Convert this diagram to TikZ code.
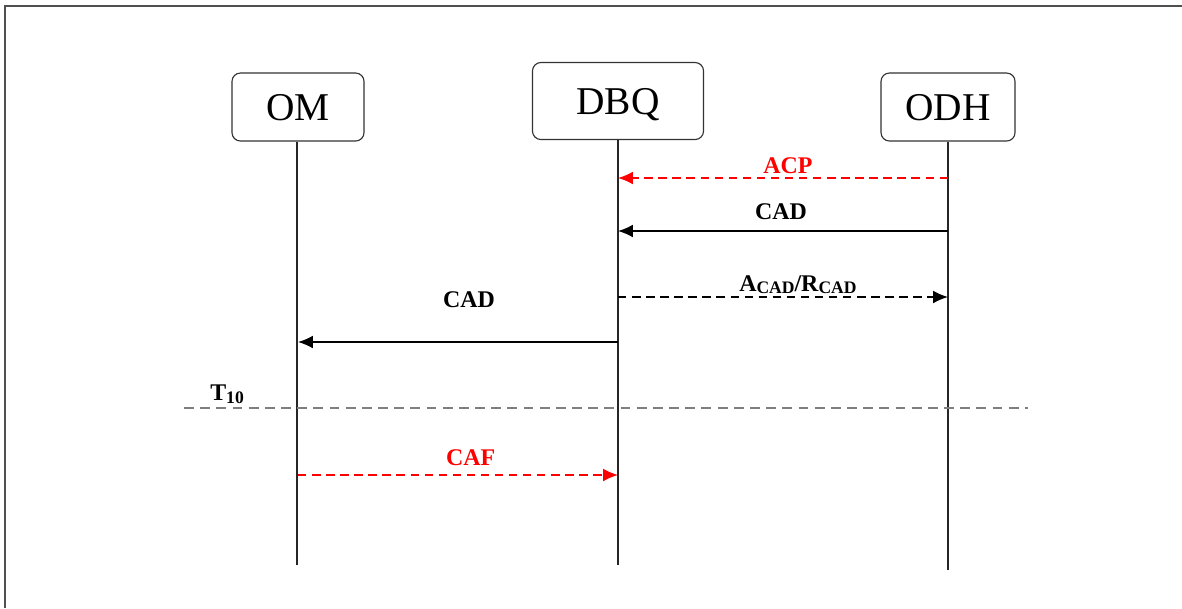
\documentclass[tikz,border=0pt]{standalone}
\usepackage{fontspec}
\setmainfont{Liberation Serif}
\usepackage{tikz}
\usepackage{xcolor}
\usetikzlibrary{arrows.meta, positioning, calc}
\definecolor{frameGray}{HTML}{505050}
\definecolor{timerGray}{HTML}{7F7F7F}
\tikzstyle{actor} = [rectangle, rounded corners=6pt, minimum width=3.3cm, minimum height=1.7cm, text centered, text depth=0pt, draw=black!80, line width=0.8pt, fill=white, font=\fontsize{28}{32}\selectfont]
\tikzstyle{lifeline} = [line width=0.8pt, draw=black!85]
\tikzstyle{arrow} = [line width=1.1pt,-{Latex[length=10.5pt,width=9pt]}]
\tikzstyle{dashedarrow} = [arrow, dash pattern=on 6pt off 4pt]
\tikzstyle{msg} = [font=\fontsize{17}{20}\selectfont\bfseries, inner sep=0pt, anchor=base]
\newcommand{\lowsub}[1]{\raisebox{-2pt}{\fontsize{12.5}{14}\selectfont #1}}

\begin{document}
\begin{tikzpicture}[x=0.025cm, y=-0.025cm]
\useasboundingbox (0,0) rectangle (1182,608);

% Frame
\draw [frameGray, line width=1.3pt] (5,608) -- (5,6) -- (1182,6);

% Nodes
\node (OM) [actor] at (298,107) {OM};
\node (DBQ) [actor, minimum width=4.275cm, minimum height=1.925cm] at (618,101) {DBQ};
\node (ODH) [actor, minimum width=3.35cm] at (948,107) {ODH};

% Rows
\coordinate (bottom) at (0,565);
\coordinate (rowACP) at (0,178);
\coordinate (rowCAD) at (0,231);
\coordinate (rowAR) at (0,297);
\coordinate (rowCADom) at (0,342);
\coordinate (rowCAF) at (0,475);
\coordinate (t10L) at (184,408);
\coordinate (t10R) at (1028,408);

% Lifelines
\draw [lifeline] (OM.south -| 297,0) -- (297,565);
\draw [lifeline] (DBQ.south) -- (DBQ |- bottom);
\draw [lifeline] (ODH.south) -- (948,570);

% Messages
\draw [dashedarrow, red] (ODH |- rowACP) -- node[msg, red, yshift=3.5pt, xshift=3.5pt] {ACP} (DBQ |- rowACP);
\draw [arrow] (ODH |- rowCAD) -- node[msg, yshift=8.4pt, xshift=-1.5pt] {CAD} (DBQ |- rowCAD);
\draw [dashedarrow] (DBQ |- rowAR) -- node[msg, yshift=4.2pt, xshift=10.6pt] {A\lowsub{CAD}/R\lowsub{CAD}} (ODH |- rowAR);
\draw [arrow] (DBQ |- rowCADom) -- node[msg, yshift=24.6pt, xshift=7.8pt] {CAD} (OM |- rowCADom);

% Timer
\draw [timerGray, line width=1.5pt, dash pattern=on 7pt off 4.5pt] (t10L) -- (t10R);
\node (t10) [msg, anchor=south west] at ($(t10L)+(26,-4)$) {T\lowsub{10}};

\draw [dashedarrow, red] (OM |- rowCAF) -- node[msg, red, yshift=7pt, xshift=9pt] {CAF} (DBQ |- rowCAF);

\end{tikzpicture}
\end{document}
